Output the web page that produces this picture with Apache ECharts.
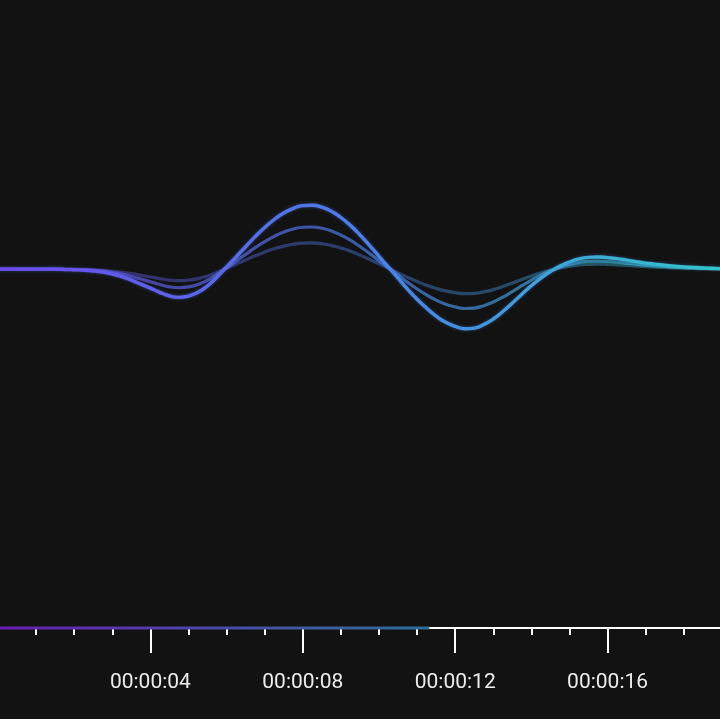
<!DOCTYPE html>
<html>
<head>
<meta charset="utf-8">
<script src="https://cdn.jsdelivr.net/npm/echarts@6/dist/echarts.min.js"></script>
<style>
html,body{margin:0;padding:0;background:#121212;overflow:hidden;width:720px;height:719px;}
#wrap{width:720px;height:719px;overflow:hidden;position:relative;}
#main{width:762px;height:719px;position:absolute;left:-2px;top:0;}
</style>
</head>
<body>
<div id="wrap"><div id="main"></div></div>
<script>
// time in seconds
var times = [0,0.25,0.5,0.75,1,1.25,1.5,1.75,2,2.25,2.5,2.75,3,3.25,3.5,3.75,4,4.25,4.5,4.75,5,5.25,5.5,5.75,6,6.25,6.5,6.75,7,7.25,7.5,7.75,8,8.25,8.5,8.75,9,9.25,9.5,9.75,10,10.25,10.5,10.75,11,11.25,11.5,11.75,12,12.25,12.5,12.75,13,13.25,13.5,13.75,14,14.25,14.5,14.75,15,15.25,15.5,15.75,16,16.25,16.5,16.75,17,17.25,17.5,17.75,18,18.25,18.5,18.75,19,19.25,19.5,19.75,20];
var waveMain = [0,0,0,0,0,0,0,-0.005,-0.01,-0.016,-0.028,-0.047,-0.078,-0.117,-0.172,-0.234,-0.297,-0.362,-0.418,-0.440,-0.420,-0.362,-0.262,-0.122,0.034,0.192,0.350,0.507,0.650,0.775,0.876,0.948,0.991,0.997,0.968,0.905,0.806,0.683,0.535,0.372,0.200,0.030,-0.141,-0.313,-0.469,-0.609,-0.734,-0.830,-0.893,-0.930,-0.920,-0.864,-0.778,-0.662,-0.530,-0.390,-0.258,-0.141,-0.039,0.047,0.112,0.160,0.184,0.190,0.180,0.164,0.141,0.117,0.094,0.078,0.063,0.047,0.036,0.027,0.019,0.013,0.008,0.005,0.002,0,0];
var waveMid = [0,0,0,0,0,0,0,-0.003,-0.007,-0.011,-0.019,-0.031,-0.052,-0.078,-0.114,-0.155,-0.196,-0.239,-0.276,-0.290,-0.277,-0.239,-0.173,-0.081,0.022,0.127,0.231,0.335,0.429,0.512,0.578,0.626,0.654,0.658,0.639,0.597,0.532,0.451,0.353,0.246,0.132,0.02,-0.093,-0.207,-0.31,-0.402,-0.484,-0.548,-0.589,-0.614,-0.607,-0.570,-0.513,-0.437,-0.35,-0.258,-0.17,-0.093,-0.026,0.031,0.074,0.106,0.121,0.125,0.119,0.108,0.093,0.077,0.062,0.051,0.042,0.031,0.024,0.018,0.013,0.009,0.005,0.003,0.001,0,0];
var waveLow = [0,0,0,0,0,0,0,-0.002,-0.004,-0.007,-0.011,-0.019,-0.032,-0.048,-0.071,-0.096,-0.122,-0.148,-0.171,-0.180,-0.172,-0.148,-0.107,-0.050,0.014,0.079,0.144,0.208,0.267,0.318,0.359,0.389,0.406,0.409,0.397,0.371,0.330,0.280,0.219,0.153,0.082,0.013,-0.058,-0.128,-0.192,-0.25,-0.301,-0.340,-0.366,-0.381,-0.377,-0.354,-0.319,-0.271,-0.217,-0.16,-0.106,-0.058,-0.016,0.019,0.046,0.066,0.075,0.078,0.074,0.067,0.058,0.048,0.039,0.032,0.026,0.019,0.015,0.011,0.008,0.005,0.003,0.002,0.001,0,0];
var progressTimes = [0, 11.32];
var xTicks = {min: 0, max: 20, interval: 4};
var yRange = {min: -5.6, max: 4.2};

function pairs(xs, ys){ return xs.map(function(x,i){ return [x, ys[i]]; }); }
function pad(n){ n = Math.round(n); return (n < 10 ? '0' : '') + n; }

var waveGrad = function(){
  return new echarts.graphic.LinearGradient(0,0,1,0,[
    {offset:0, color:'#6f48f0'},
    {offset:0.5, color:'#4a80ea'},
    {offset:1, color:'#2ecfc4'}
  ]);
};

var chart = echarts.init(document.getElementById('main'), null, {width: 762, height: 719});
chart.setOption({
  backgroundColor: '#121212',
  animation: false,
  grid: {left: 0, right: 0, top: 0, bottom: 91, containLabel: false, outerBoundsMode: 'none'},
  xAxis: {
    type: 'value',
    min: xTicks.min, max: xTicks.max, interval: xTicks.interval,
    axisLine: {show: true, onZero: false, lineStyle: {color: '#ffffff', width: 2}},
    axisTick: {show: true, length: 25, lineStyle: {color: '#ffffff', width: 2}},
    minorTick: {show: true, splitNumber: 4, length: 7, lineStyle: {color: '#ffffff', width: 2}},
    splitLine: {show: false},
    axisLabel: {
      show: true, showMinLabel: false, showMaxLabel: true, hideOverlap: false, margin: 44,
      color: '#ececec', fontSize: 21, fontFamily: 'Roboto',
      formatter: function(v){ var h = Math.floor(v/3600), m = Math.floor((v%3600)/60), s = v%60; return pad(h)+':'+pad(m)+':'+pad(s); }
    }
  },
  yAxis: {
    type: 'value', min: yRange.min, max: yRange.max, show: false,
    splitLine: {show: false}
  },
  series: [
    {
      type: 'line', smooth: true, symbol: 'none', z: 3,
      data: pairs(times, waveLow),
      lineStyle: {width: 3.2, color: waveGrad(), opacity: 0.42}
    },
    {
      type: 'line', smooth: true, symbol: 'none', z: 4,
      data: pairs(times, waveMid),
      lineStyle: {width: 3.2, color: waveGrad(), opacity: 0.68}
    },
    {
      type: 'line', smooth: true, symbol: 'none', z: 5,
      data: pairs(times, waveMain),
      lineStyle: {width: 3.4, color: waveGrad(), opacity: 1, shadowBlur: 3, shadowColor: 'rgba(74,128,234,0.5)'}
    },
    {
      type: 'line', symbol: 'none', clip: false, z: 10,
      data: progressTimes.map(function(t){ return [t, yRange.min]; }),
      lineStyle: {width: 3, color: new echarts.graphic.LinearGradient(0,0,1,0,[
        {offset:0, color:'#6a1cb4'},
        {offset:0.5, color:'#4a4aa8'},
        {offset:1, color:'#2b6e98'}
      ])}
    }
  ]
});
</script>
</body>
</html>
